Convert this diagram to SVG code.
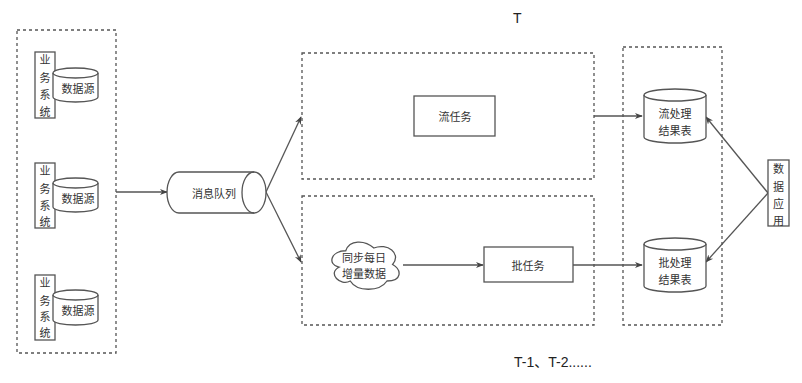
<svg xmlns="http://www.w3.org/2000/svg" width="802" height="383" viewBox="0 0 802 383">
<defs>
<marker id="arr" viewBox="0 0 10 10" refX="9" refY="5" markerWidth="8" markerHeight="8" markerUnits="userSpaceOnUse" orient="auto">
<path d="M0,1 L10,5 L0,9 L3,5 Z" fill="#444"/>
</marker>
<style>
.dash{fill:none;stroke:#555;stroke-width:1.3;stroke-dasharray:3 3}
.box{fill:#fff;stroke:#555;stroke-width:1.3}
.ln{fill:none;stroke:#555;stroke-width:1.3}
.t{font-family:"Noto Sans CJK SC","Liberation Sans",sans-serif;font-size:11px;fill:#333;text-anchor:middle;dominant-baseline:central}
.big{font-family:"Liberation Sans","Noto Sans CJK SC",sans-serif;font-size:14px;fill:#222}
</style>
</defs>
<rect width="802" height="383" fill="#fff"/>

<g id="containers">
<rect class="dash" x="17" y="30" width="99" height="323"/>
<rect class="dash" x="302" y="53" width="292" height="126"/>
<rect class="dash" x="302" y="196" width="292" height="129"/>
<rect class="dash" x="623" y="47" width="99" height="278"/>
</g>

<g id="connectors">
<path class="ln" d="M116,192 L167,192" marker-end="url(#arr)"/>
<path class="ln" d="M266,192 L301,117" marker-end="url(#arr)"/>
<path class="ln" d="M266,192 L301,262" marker-end="url(#arr)"/>
<path class="ln" d="M594,116 L642,116" marker-end="url(#arr)"/>
<path class="ln" d="M403,265 L483,265" marker-end="url(#arr)"/>
<path class="ln" d="M573,265 L642,265" marker-end="url(#arr)"/>
<path class="ln" d="M768,193 L706,117" marker-end="url(#arr)"/>
<path class="ln" d="M768,193 L706,262" marker-end="url(#arr)"/>
</g>

<g id="sys1">
<rect class="box" x="35" y="52" width="20" height="66"/>
<text class="t" x="45" y="59">业</text><text class="t" x="45" y="77">务</text><text class="t" x="45" y="94">系</text><text class="t" x="45" y="111">统</text>
</g>
<g id="ds1">
<path class="box" d="M53,73 A22.5,5 0 0 1 98,73 L98,97 A22.5,5 0 0 1 53,97 Z"/>
<path class="ln" d="M53,73 A22.5,5 0 0 0 98,73"/>
<text class="t" x="78" y="88">数据源</text>
</g>

<g id="sys2">
<rect class="box" x="35" y="163" width="20" height="65"/>
<text class="t" x="45" y="170">业</text><text class="t" x="45" y="188">务</text><text class="t" x="45" y="205">系</text><text class="t" x="45" y="221">统</text>
</g>
<g id="ds2">
<path class="box" d="M53,183 A22.5,5 0 0 1 98,183 L98,207 A22.5,5 0 0 1 53,207 Z"/>
<path class="ln" d="M53,183 A22.5,5 0 0 0 98,183"/>
<text class="t" x="78" y="198">数据源</text>
</g>

<g id="sys3">
<rect class="box" x="35" y="275" width="20" height="65"/>
<text class="t" x="45" y="282">业</text><text class="t" x="45" y="300">务</text><text class="t" x="45" y="316">系</text><text class="t" x="45" y="332">统</text>
</g>
<g id="ds3">
<path class="box" d="M53,295 A22.5,5 0 0 1 98,295 L98,320 A22.5,5 0 0 1 53,320 Z"/>
<path class="ln" d="M53,295 A22.5,5 0 0 0 98,295"/>
<text class="t" x="78" y="310">数据源</text>
</g>

<g id="queue">
<path class="box" d="M254,172 A12,20.5 0 0 1 254,213 L179,213 A12,20.5 0 0 1 179,172 Z"/>
<path class="ln" d="M254,172 A12,20.5 0 0 0 254,213"/>
<text class="t" x="214" y="193">消息队列</text>
</g>

<g id="stream-task">
<rect class="box" x="414" y="96" width="81" height="40"/>
<text class="t" x="455" y="116">流任务</text>
</g>

<g id="cloud">
<path class="box" d="M345.75,250.75 C330.75,250.75 327,264.5 339,267.25 C327,273.3 340.5,286.5 350.25,281 C357,292 379.5,292 387,281 C402,281 402,270 392.6,264.5 C402,253.5 387,242.5 373.9,248 C364.5,239.75 349.5,239.75 345.75,250.75 Z"/>
<text class="t" x="364" y="257">同步每日</text>
<text class="t" x="364" y="273">增量数据</text>
</g>

<g id="batch-task">
<rect class="box" x="484" y="247" width="89" height="35"/>
<text class="t" x="528" y="265">批任务</text>
</g>

<g id="stream-table">
<path class="box" d="M644,95 A31,6 0 0 1 706,95 L706,137 A31,6 0 0 1 644,137 Z"/>
<path class="ln" d="M644,95 A31,6 0 0 0 706,95"/>
<text class="t" x="675" y="113">流处理</text>
<text class="t" x="675" y="130">结果表</text>
</g>

<g id="batch-table">
<path class="box" d="M644,244 A31,6 0 0 1 706,244 L706,286 A31,6 0 0 1 644,286 Z"/>
<path class="ln" d="M644,244 A31,6 0 0 0 706,244"/>
<text class="t" x="675" y="262">批处理</text>
<text class="t" x="675" y="279">结果表</text>
</g>

<g id="data-app">
<rect class="box" x="768" y="160" width="21" height="66"/>
<text class="t" x="778.5" y="168">数</text><text class="t" x="778.5" y="186">据</text><text class="t" x="778.5" y="203">应</text><text class="t" x="778.5" y="220">用</text>
</g>

<g id="labels">
<text class="big" x="513" y="23">T</text>
<text class="big" x="514" y="367">T-1、T-2......</text>
</g>
</svg>
